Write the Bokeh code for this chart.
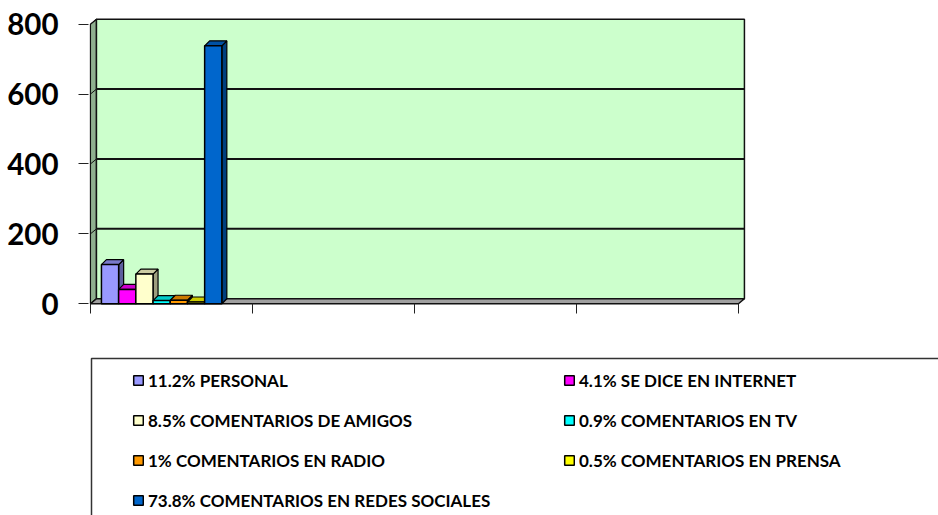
from bokeh.plotting import figure
from bokeh.models import Legend, LegendItem, FixedTicker, Range1d, BoxAnnotation
from bokeh.embed import file_html
from bokeh.resources import INLINE

# ---- data ----
series_names = [
    "11.2% PERSONAL",
    "4.1% SE DICE EN INTERNET",
    "8.5% COMENTARIOS DE AMIGOS",
    "0.9% COMENTARIOS EN TV",
    "1% COMENTARIOS EN RADIO",
    "0.5% COMENTARIOS EN PRENSA",
    "73.8% COMENTARIOS EN REDES SOCIALES",
]
series_values = [112, 41, 85, 9, 10, 5, 738]
series_colors = ["#9999FF", "#FF00FF", "#FFFFCC", "#00FFFF", "#FF9900", "#FFFF00", "#0066CC"]
y_ticks = [0, 200, 400, 600, 800]
x_ticks = [0, 1, 2, 3, 4]

# ---- geometry / style ----
X_MAX = x_ticks[-1]
Y_MAX = y_ticks[-1]
WALL_DX = 6 / 162.0
WALL_DY = 14.3
BAR_DX = 5 / 162.0
BAR_DY = 14.3
GROUP_START = 11 / 162.0
BAR_W = 17.2 / 162.0
FONT = "Lato"


def shade(hex_color, f):
    h = hex_color.lstrip("#")
    r, g, b = (int(h[i:i + 2], 16) for i in (0, 2, 4))
    return "#%02x%02x%02x" % (int(r * f), int(g * f), int(b * f))


p = figure(width=938, height=515, output_backend="svg", toolbar_location=None,
           x_range=Range1d(-0.012, 5.235), y_range=Range1d(-605.9, 822),
           min_border_left=88, min_border_right=0, min_border_top=16,
           min_border_bottom=0)
p.grid.visible = False
p.outline_line_color = None
p.background_fill_color = "white"
p.border_fill_color = "white"

# side wall
p.patch([0, WALL_DX, WALL_DX, 0], [0, WALL_DY, Y_MAX + WALL_DY, Y_MAX],
        fill_color="#8FB08F", line_color="#111111", line_width=1.2)
# back wall
p.patch([WALL_DX, X_MAX + WALL_DX, X_MAX + WALL_DX, WALL_DX],
        [WALL_DY, WALL_DY, Y_MAX + WALL_DY, Y_MAX + WALL_DY],
        fill_color="#CCFFCC", line_color="#111111", line_width=1.5)
# floor
p.patch([0, X_MAX, X_MAX + WALL_DX, WALL_DX], [0, 0, WALL_DY, WALL_DY],
        fill_color="#A0A0A0", line_color="#111111", line_width=1.5)
# gridlines on back wall
mid = [v for v in y_ticks if 0 < v < Y_MAX]
p.segment(x0=[WALL_DX] * len(mid), y0=[v + WALL_DY for v in mid],
          x1=[X_MAX + WALL_DX] * len(mid), y1=[v + WALL_DY for v in mid],
          line_color="#111111", line_width=2)
# tick connectors to the wall
p.segment(x0=[0] * len(y_ticks), y0=y_ticks, x1=[WALL_DX] * len(y_ticks),
          y1=[v + WALL_DY for v in y_ticks], line_color="#111111", line_width=1)

# bars (3D look: side, top, front)
front = []
for i, (name, val, col) in enumerate(zip(series_names, series_values, series_colors)):
    x0 = GROUP_START + i * BAR_W
    x1 = x0 + BAR_W
    p.patch([x1, x1 + BAR_DX, x1 + BAR_DX, x1], [0, BAR_DY, val + BAR_DY, val],
            fill_color=shade(col, 0.62), line_color="black", line_width=1.2)
    p.patch([x0, x1, x1 + BAR_DX, x0 + BAR_DX], [val, val, val + BAR_DY, val + BAR_DY],
            fill_color=shade(col, 0.8), line_color="black", line_width=1.2)
    front.append(p.quad(left=[x0], right=[x1], bottom=[0], top=[val],
                        fill_color=col, line_color="black", line_width=1.5))

# axes
p.yaxis.ticker = FixedTicker(ticks=y_ticks)
p.yaxis.axis_line_color = None
p.yaxis.major_tick_out = 10
p.yaxis.major_tick_in = 0
p.yaxis.minor_tick_line_color = None
p.yaxis.major_tick_line_color = "#222222"
p.yaxis.major_label_standoff = 20
p.yaxis.major_label_text_font = FONT
p.yaxis.major_label_text_font_style = "bold"
p.yaxis.major_label_text_font_size = "29.5px"
p.yaxis.major_label_text_color = "black"

p.xaxis.ticker = FixedTicker(ticks=x_ticks)
p.xaxis.fixed_location = 0
p.xaxis.axis_line_color = None
p.xaxis.major_tick_out = 10
p.xaxis.major_tick_in = 0
p.xaxis.minor_tick_line_color = None
p.xaxis.major_tick_line_color = "#222222"
p.xaxis.major_label_text_color = None
p.xaxis.major_label_standoff = 0

# ---- legend ----
# box in frame-relative screen px (y measured up from the frame bottom)
box = BoxAnnotation(left=3, right=2000, top=157, bottom=-200,
                    left_units="screen", right_units="screen",
                    top_units="screen", bottom_units="screen",
                    fill_color=None, fill_alpha=0, line_color="#333333",
                    line_alpha=1.0, line_width=1.5)
p.add_layout(box)


def make_legend(idx, loc):
    return Legend(items=[LegendItem(label=series_names[k], renderers=[front[k]]) for k in idx],
                  location=loc, orientation="vertical", padding=0, margin=0, spacing=16,
                  glyph_width=12, glyph_height=12, label_height=24, label_standoff=4,
                  label_text_font=FONT, label_text_font_style="bold",
                  label_text_font_size="17px", label_text_color="black",
                  border_line_color=None, background_fill_alpha=0)


p.add_layout(make_legend([0, 2, 4, 6], (44, 3)))
p.add_layout(make_legend([1, 3, 5], (475, 43)))

open("out.html", "w").write(file_html(p, INLINE))
